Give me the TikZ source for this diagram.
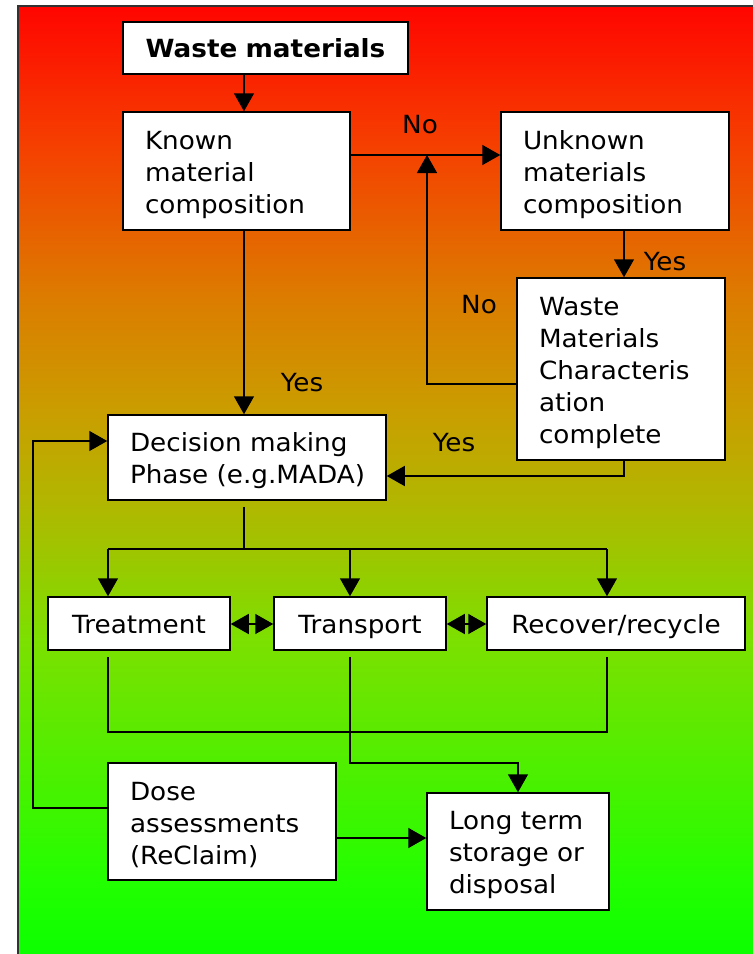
\documentclass[tikz,border=0pt]{standalone}
\usepackage{fontspec}
\setmainfont{DejaVu Sans}[FakeStretch=1.05]
\usetikzlibrary{arrows.meta}
\definecolor{s0}{RGB}{10,255,0}
\definecolor{s1}{RGB}{35,255,0}
\definecolor{s2}{RGB}{70,242,0}
\definecolor{s3}{RGB}{124,224,0}
\definecolor{s4}{RGB}{178,182,0}
\definecolor{s5}{RGB}{200,160,0}
\definecolor{s6}{RGB}{220,125,0}
\definecolor{s7}{RGB}{245,65,0}
\definecolor{s8}{RGB}{255,5,0}
\definecolor{framec}{RGB}{50,50,50}
\pgfdeclareverticalshading{bggrad}{100bp}{color(0bp)=(s0); color(25bp)=(s0); color(29.2bp)=(s1); color(33.9bp)=(s2); color(41.8bp)=(s3); color(49.1bp)=(s4); color(53.3bp)=(s5); color(59.6bp)=(s6); color(67.5bp)=(s7); color(75bp)=(s8); color(100bp)=(s8)}
\tikzset{
  box/.style={draw, fill=white, line width=1.5pt, inner xsep=22pt, inner ysep=0pt, align=left, font=\fontsize{25}{32}\selectfont},
  mbox/.style={box, execute at begin node={\rule{0pt}{26pt}}},
  cbox/.style={box, inner xsep=0pt, align=center, execute at begin node={\rule[-7pt]{0pt}{33pt}}},
  lbl/.style={font=\fontsize{25}{32}\selectfont, inner sep=0pt},
  arr/.style={line width=1.5pt, -{Triangle[length=18pt,width=20pt]}},
  dbl/.style={line width=1.5pt, {Triangle[length=18pt,width=20pt]}-{Triangle[length=18pt,width=20pt]}},
  ln/.style={line width=1.5pt},
}
\begin{document}
\begin{tikzpicture}[x=1pt,y=-1pt]
\useasboundingbox (0,0) rectangle (753,954);
\clip (0,0) rectangle (753,954);
\shade[shading=bggrad] (18,6) rectangle (760,960);
\draw[line width=2pt, framec] (18,960) -- (18,6) -- (760,6);

% boxes
\node[cbox, text width=285pt, minimum height=52pt] (waste) at (265.5,48) {\textbf{Waste materials}};
\node[mbox, text width=183pt, minimum height=118pt] (known) at (236.5,171) {Known\\material\\composition};
\node[mbox, text width=184pt, minimum height=118pt] (unknown) at (615,171) {Unknown\\materials\\composition};
\node[mbox, text width=164pt, minimum height=182pt] (wmc) at (621,369) {Waste\\Materials\\Characteris\\ation\\complete};
\node[mbox, text width=234pt, minimum height=85pt] (decision) at (247,457.5) {Decision~making\\Phase~(e.g.MADA)};
\node[cbox, text width=182pt, minimum height=53pt] (treat) at (139,623.5) {Treatment};
\node[cbox, text width=172pt, minimum height=53pt] (transp) at (360,623.5) {Transport};
\node[cbox, text width=258pt, minimum height=53pt] (recover) at (616,623.5) {Recover/recycle};
\node[mbox, text width=184pt, minimum height=117pt] (dose) at (222,821.5) {Dose\\assessments\\(ReClaim)};
\node[mbox, text width=138pt, minimum height=117pt] (longterm) at (518,851.5) {Long~term\\storage~or\\disposal};

% labels
\node[lbl] (no1) at (420,125) {No};
\node[lbl] (yes1) at (665,262) {Yes};
\node[lbl] (no2) at (479,305) {No};
\node[lbl] (yes2) at (302,383) {Yes};
\node[lbl] (yes3) at (454,443) {Yes};

% helper coordinates
\coordinate (xA) at (244,0);
\coordinate (yNo) at (0,155);
\coordinate (xU) at (624,0);
\coordinate (xB) at (427,0);
\coordinate (yB) at (0,384);
\coordinate (yC) at (0,476);
\coordinate (ySplit) at (0,549);
\coordinate (xT) at (108,0);
\coordinate (xP) at (350,0);
\coordinate (xR) at (607,0);
\coordinate (yJoin) at (0,732);
\coordinate (yP) at (0,763);
\coordinate (xL) at (518,0);
\coordinate (yD1) at (0,808);
\coordinate (xFb) at (33,0);
\coordinate (yD2) at (0,441);
\coordinate (yD3) at (0,838);
\coordinate (yM) at (0,624);

% connectors
\draw[arr] (xA |- waste.south) -- (xA |- known.north);
\draw[arr] (known.east |- yNo) -- (unknown.west |- yNo);
\draw[arr] (xU |- unknown.south) -- (xU |- wmc.north);
\draw[arr] (wmc.west |- yB) -- (xB |- yB) -- (xB |- yNo);
\draw[arr] (xA |- known.south) -- (xA |- decision.north);
\draw[arr] (xU |- wmc.south) -- (xU |- yC) -- (decision.east |- yC);
\draw[ln] ([yshift=-6pt]xA |- decision.south) -- (xA |- ySplit);
\draw[ln] (xT |- ySplit) -- (xR |- ySplit);
\draw[arr] (xT |- ySplit) -- (xT |- treat.north);
\draw[arr] (xP |- ySplit) -- (xP |- transp.north);
\draw[arr] (xR |- ySplit) -- (xR |- recover.north);
\draw[dbl] (treat.east |- yM) -- (transp.west |- yM);
\draw[dbl] (transp.east |- yM) -- (recover.west |- yM);
\draw[ln] ([yshift=-6pt]xT |- treat.south) -- (xT |- yJoin) -- (xR |- yJoin) -- ([yshift=-6pt]xR |- recover.south);
\draw[arr] ([yshift=-6pt]xP |- transp.south) -- (xP |- yP) -- (xL |- yP) -- (xL |- longterm.north);
\draw[arr] (dose.west |- yD1) -- (xFb |- yD1) -- (xFb |- yD2) -- (decision.west |- yD2);
\draw[arr] (dose.east |- yD3) -- (longterm.west |- yD3);
\end{tikzpicture}
\end{document}
